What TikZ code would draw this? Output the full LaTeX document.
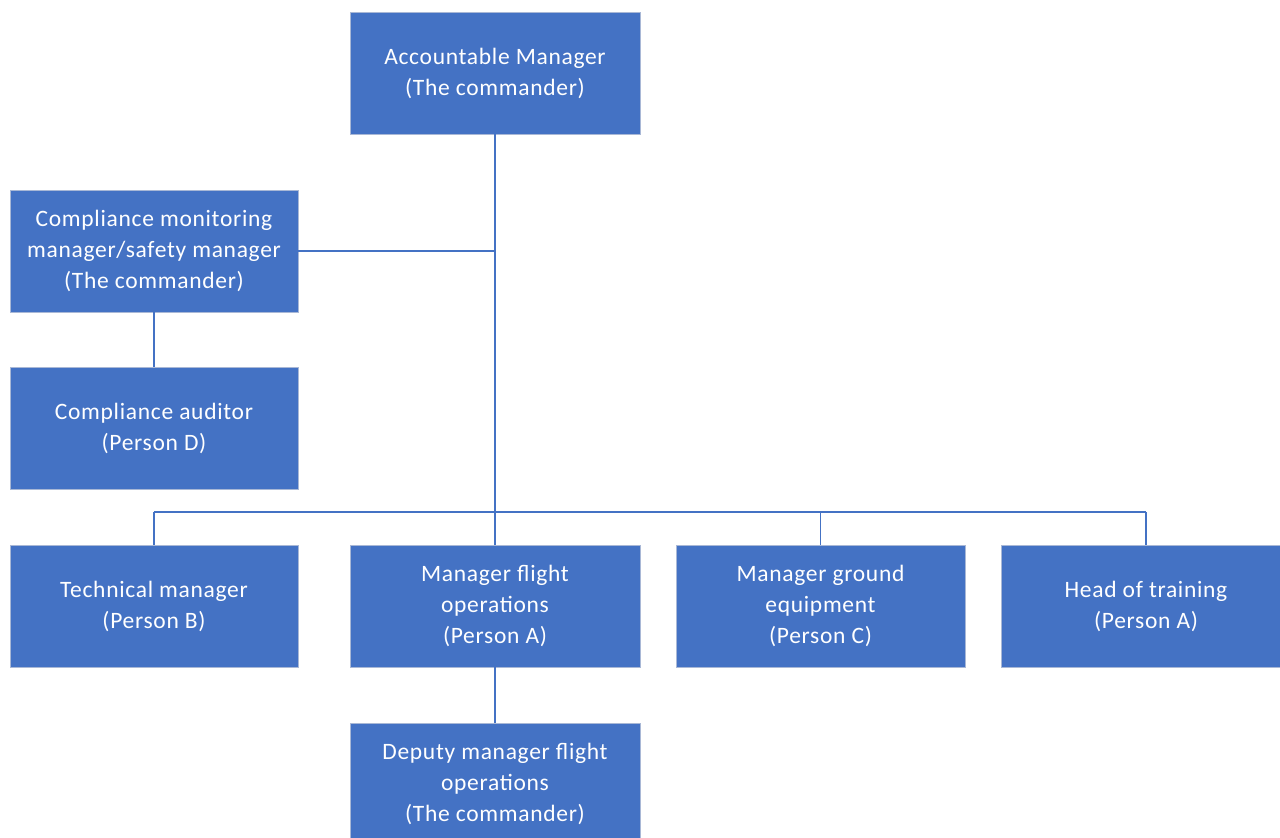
\documentclass[tikz,border=0pt]{standalone}
\usepackage{fontspec}
\setmainfont{Carlito}[LetterSpace=3]
\definecolor{boxblue}{HTML}{4472C4}
\definecolor{boxedge}{HTML}{A9B8D6}
\begin{document}
\begin{tikzpicture}[x=1pt,y=-1pt,
  orgbox/.style={rectangle, fill=boxblue, draw=boxedge, line width=0.8pt,
    minimum width=#1, minimum height=122pt, inner sep=0pt,
    text=white, align=center, font=\fontsize{23.5}{31}\selectfont},
  orgbox/.default=289pt,
  link/.style={draw=boxblue, line width=1.6pt}]
\useasboundingbox (0,0) rectangle (1280,838);
\fill[white] (0,0) rectangle (1280,838);
\node[orgbox=290pt] (am) at (495,73) {Accountable Manager\\(The commander)};
\node[orgbox=288pt] (cm) at (154,251) {Compliance monitoring\\manager/safety manager\\(The commander)};
\node[orgbox=288pt] (ca) at (154,428) {Compliance auditor\\(Person D)};
\node[orgbox=288pt] (tm) at (154,606) {Technical manager\\(Person B)};
\node[orgbox=290pt] (mfo) at (495,606) {Manager flight\\operations\\(Person A)};
\node[orgbox=289pt] (mge) at (820.5,606) {Manager ground\\equipment\\(Person C)};
\node[orgbox=290pt] (ht) at (1146,606) {Head of training\\(Person A)};
\node[orgbox=290pt] (dep) at (495,784) {Deputy manager flight\\operations\\(The commander)};
\coordinate (bus) at (495,512);
\draw[link] (am.south) -- (mfo.north);
\draw[link] (cm.east) -- (am.south |- cm.east);
\draw[link] (tm.north |- bus) -- (ht.north |- bus);
\draw[link] (tm.north) -- (tm.north |- bus);
\draw[link] (mge.north) -- (mge.north |- bus);
\draw[link] (ht.north) -- (ht.north |- bus);
\draw[link] (cm.south) -- (ca.north);
\draw[link] (mfo.south) -- (dep.north);
\end{tikzpicture}
\end{document}
